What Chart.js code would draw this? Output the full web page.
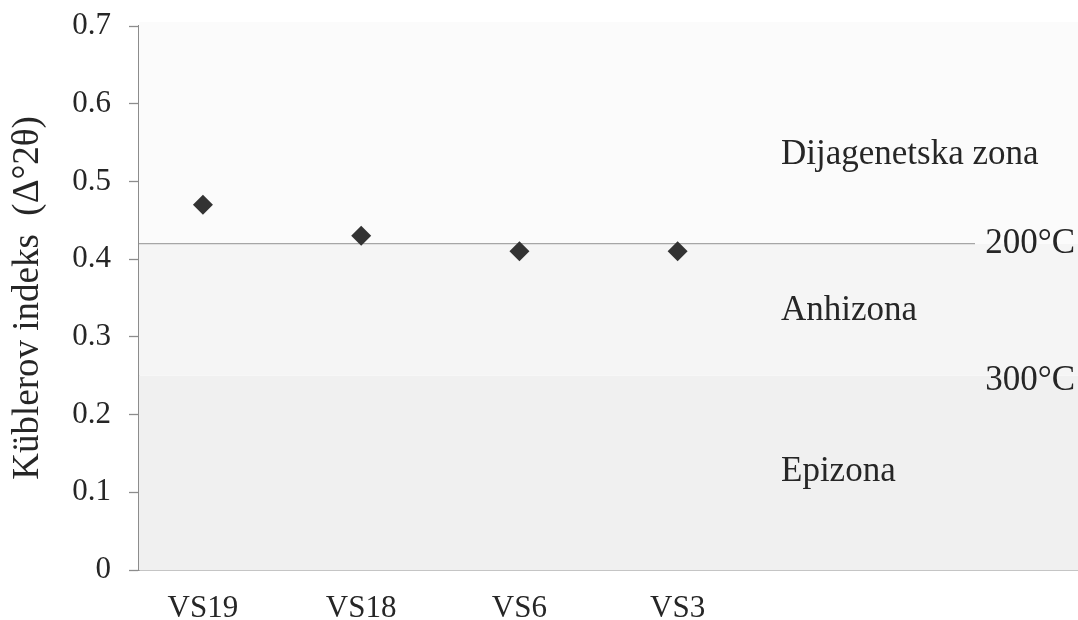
<!DOCTYPE html>
<html>
<head>
<meta charset="utf-8">
<script src="https://cdn.jsdelivr.net/npm/chart.js@4.4.0/dist/chart.umd.min.js"></script>
<style>
  html, body { margin: 0; padding: 0; background: #fff; }
  #wrap { width: 1078px; height: 620px; }
</style>
</head>
<body>
<div id="wrap"><canvas id="chart"></canvas></div>
<script>
"use strict";

// data
var samples = ['VS19', 'VS18', 'VS6', 'VS3'];
var kiValues = [0.47, 0.43, 0.41, 0.41];
var yTicks = [0, 0.1, 0.2, 0.3, 0.4, 0.5, 0.6, 0.7];
var zoneLimits = [0, 0.25, 0.42, 0.7];
var zoneNames = ['Epizona', 'Anhizona', 'Dijagenetska zona'];
var tempLimits = [0.25, 0.42];
var tempNames = ['300°C', '200°C'];

var FONT = '"Liberation Serif", "DejaVu Serif", serif';
var TEXT = '#262626';

var zonesPlugin = {
  id: 'zones',
  beforeDatasetsDraw: function(chart) {
    var ctx = chart.ctx, a = chart.chartArea, y = chart.scales.y;
    var fills = ['#f0f0f0', '#f5f5f5', '#fbfbfb'];
    ctx.save();
    for (var i = 0; i < zoneNames.length; i++) {
      var top = y.getPixelForValue(zoneLimits[i + 1]);
      var bot = y.getPixelForValue(zoneLimits[i]);
      if (i === zoneNames.length - 1) top -= 4;
      ctx.fillStyle = fills[i];
      ctx.fillRect(a.left, top, a.right - a.left, bot - top);
    }
    // 200°C line
    var ly = y.getPixelForValue(tempLimits[1]);
    ctx.strokeStyle = '#a6a6a6';
    ctx.lineWidth = 1.3;
    ctx.beginPath();
    ctx.moveTo(a.left, ly);
    ctx.lineTo(a.right - 103, ly);
    ctx.stroke();

    ctx.fillStyle = TEXT;
    ctx.font = '35px ' + FONT;
    ctx.textBaseline = 'middle';
    // zone names
    var zoneY = [0.126, 0.333, 0.534];
    ctx.textAlign = 'left';
    for (var j = 0; j < zoneNames.length; j++) {
      ctx.fillText(zoneNames[j], a.left + 642, y.getPixelForValue(zoneY[j]));
    }
    // temperatures
    ctx.textAlign = 'right';
    for (var k = 0; k < tempNames.length; k++) {
      var off = k === 0 ? 5 : 0;
      ctx.fillText(tempNames[k], a.right - 3, y.getPixelForValue(tempLimits[k]) + off);
    }
    ctx.restore();
  }
};

var ctx = document.getElementById('chart').getContext('2d');
var myChart = new Chart(ctx, {
  type: 'scatter',
  data: {
    datasets: [{
      label: 'Küblerov indeks',
      data: kiValues.map(function(v, i) { return { x: i + 1, y: v }; }),
      pointStyle: 'rectRot',
      pointRadius: 10,
      pointHoverRadius: 10,
      backgroundColor: '#333333',
      borderColor: '#333333',
      borderWidth: 0
    }]
  },
  options: {
    responsive: true,
    maintainAspectRatio: false,
    animation: false,
    layout: { autoPadding: false, padding: { left: 0, right: 0, top: 26, bottom: 0 } },
    plugins: {
      legend: { display: false },
      tooltip: { enabled: false }
    },
    scales: {
      x: {
        type: 'linear',
        min: 0.596,
        max: 6.53,
        afterBuildTicks: function(scale) {
          scale.ticks = samples.map(function(s, i) { return { value: i + 1 }; });
        },
        afterFit: function(scale) {
          scale.height = 50;
          scale.paddingLeft = 0;
          scale.paddingRight = 0;
        },
        ticks: {
          color: TEXT,
          font: { family: FONT, size: 31 },
          padding: 12,
          maxRotation: 0,
          autoSkip: false,
          callback: function(v) { return samples[v - 1]; }
        },
        grid: { display: false },
        border: { display: true, color: '#8c8c8c', width: 1.5 }
      },
      y: {
        min: 0,
        max: 0.7,
        afterBuildTicks: function(scale) {
          scale.ticks = yTicks.map(function(v) { return { value: v }; });
        },
        afterFit: function(scale) {
          scale.width = 139;
          scale.paddingTop = 0;
          scale.paddingBottom = 0;
        },
        ticks: {
          color: TEXT,
          font: { family: FONT, size: 31 },
          padding: 18,
          callback: function(v) { return v === 0 ? '0' : v.toFixed(1); }
        },
        grid: {
          drawOnChartArea: false,
          drawTicks: true,
          tickLength: 10,
          tickColor: '#8c8c8c',
          tickWidth: 1.3
        },
        border: { display: true, color: '#8c8c8c', width: 1.5 },
        title: {
          display: true,
          text: 'Küblerov indeks  (Δ°2θ)',
          color: TEXT,
          font: { family: FONT, size: 37 },
          padding: { top: 6, bottom: 0 }
        }
      }
    }
  },
  plugins: [zonesPlugin]
});
</script>
</body>
</html>
